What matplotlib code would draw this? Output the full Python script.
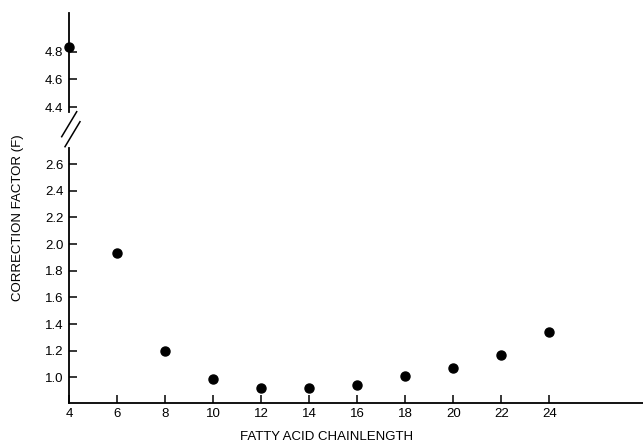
import matplotlib
matplotlib.use("Agg")
import matplotlib.pyplot as plt
from matplotlib.lines import Line2D
import numpy as np

plt.rcParams['font.family'] = ['Liberation Sans', 'DejaVu Sans']

chain_length = [4, 6, 8, 10, 12, 14, 16, 18, 20, 22, 24]
correction_factor = [4.83, 1.93, 1.20, 0.99, 0.92, 0.92, 0.94, 1.01, 1.07, 1.17, 1.34]

x_ticks = [4, 6, 8, 10, 12, 14, 16, 18, 20, 22, 24]
x_ticklabels = ['4', '6', '8', '10', '12', '14', '16', '18', '20', '22', '24']
low_yticks = [1.0, 1.2, 1.4, 1.6, 1.8, 2.0, 2.2, 2.4, 2.6]
low_yticklabels = ['1.0', '1.2', '1.4', '1.6', '1.8', '2.0', '2.2', '2.4', '2.6']
high_yticks = [4.4, 4.6, 4.8]
high_yticklabels = ['4.4', '4.6', '4.8']

W, H = 643, 447
fig = plt.figure(figsize=(W / 100, H / 100), dpi=100)

def fx(px):
    return px / W

def fy(py):
    return 1 - py / H

left = fx(69)
ax_lo = fig.add_axes([left, fy(402.7), 1 - left, fy(148) - fy(402.7)])
ax_hi = fig.add_axes([left, fy(112), 1 - left, fy(13) - fy(112)], sharex=ax_lo)

lo_lim = (0.81, 2.72)
hi_lim = (4.366, 5.078)
xs = np.array(chain_length)
ys = np.array(correction_factor)

for ax, lim in ((ax_lo, lo_lim), (ax_hi, hi_lim)):
    m = (ys >= lim[0]) & (ys <= lim[1])
    ax.plot(xs[m], ys[m], 'o', color='black', markersize=6.5, clip_on=False, zorder=5)
    ax.set_ylim(*lim)
    ax.spines['top'].set_visible(False)
    ax.spines['right'].set_visible(False)
    ax.spines['left'].set_linewidth(1.3)
    ax.tick_params(axis='y', direction='in', length=6, width=1.1, labelsize=9.5, pad=4)
    ax.set_facecolor('none')

ax_lo.set_xlim(4, 27.9)

ax_lo.set_yticks(low_yticks)
ax_lo.set_yticklabels(low_yticklabels)
ax_hi.set_yticks(high_yticks)
ax_hi.set_yticklabels(high_yticklabels)

ax_lo.set_xticks(x_ticks)
ax_lo.set_xticklabels(x_ticklabels)
ax_lo.tick_params(axis='x', direction='in', length=6, width=1.1, labelsize=9.5, pad=4)
ax_lo.spines['bottom'].set_linewidth(1.3)

ax_hi.spines['bottom'].set_visible(False)
ax_hi.tick_params(axis='x', which='both', bottom=False, labelbottom=False)

# axis break marks
fig.add_artist(Line2D([fx(61.7), fx(76.7)], [fy(136.7), fy(111.7)], color='black', lw=1.1))
fig.add_artist(Line2D([fx(65), fx(80)], [fy(146.7), fy(121.7)], color='black', lw=1.1))

fig.text(fx(18), fy(218), 'CORRECTION FACTOR (F)', rotation=90, ha='center', va='center',
         fontsize=9.5)
fig.text(fx(327), fy(437), 'FATTY ACID CHAINLENGTH', ha='center', va='center', fontsize=9.5)

fig.savefig('out.png', dpi=100)
